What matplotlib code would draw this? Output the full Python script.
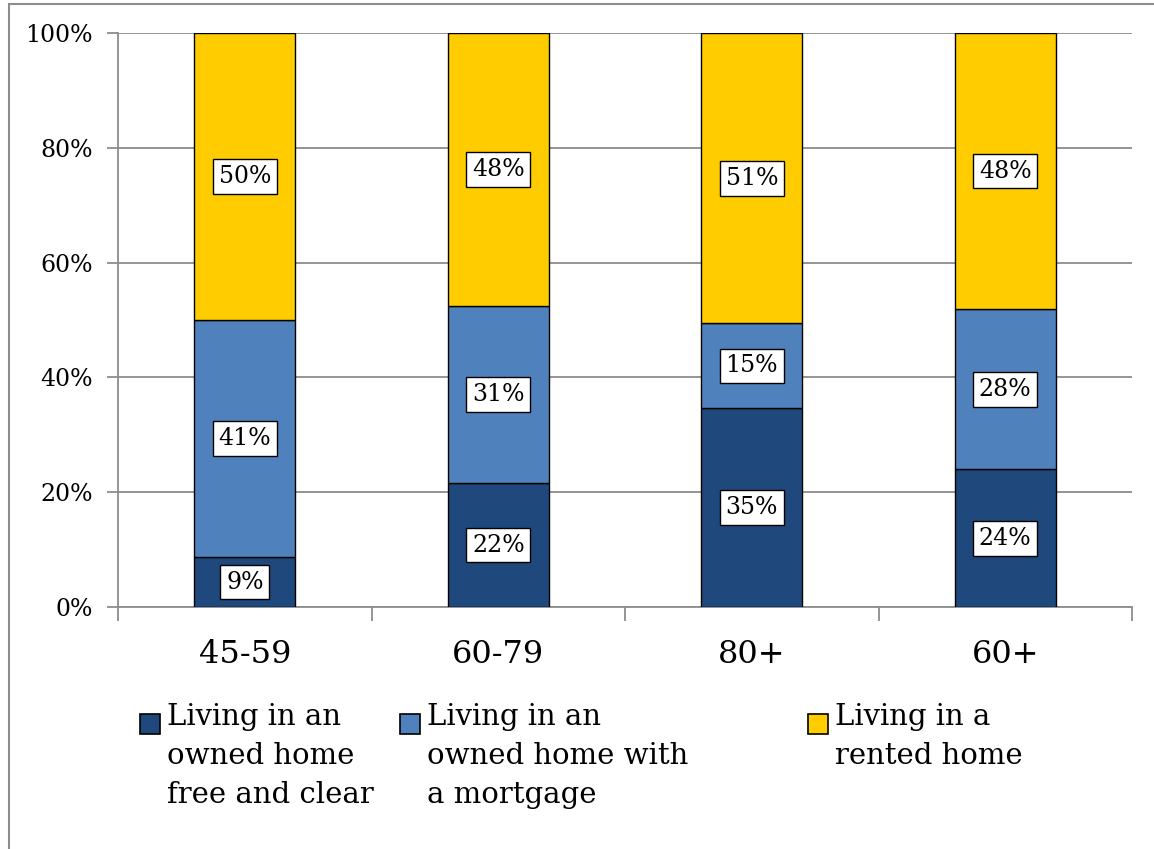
import numpy as np
import matplotlib
matplotlib.use("Agg")
import matplotlib.pyplot as plt
from matplotlib.patches import Rectangle

# Data (percent of people in each age group)
age_groups = ["45-59", "60-79", "80+", "60+"]
free_clear = [8.7, 21.6, 34.6, 24.0]
mortgage = [41.3, 30.8, 14.8, 27.9]
rented = [50.0, 47.6, 50.6, 48.1]

series_names = ["Living in an\nowned home\nfree and clear",
                "Living in an\nowned home with\na mortgage",
                "Living in a\nrented home"]
colors = ["#1F497D", "#4F81BD", "#FFCC00"]

plt.rcParams['font.family'] = ['DejaVu Serif']

fig = plt.figure(figsize=(11.54, 8.49), dpi=100)
ax = fig.add_axes([118 / 1154, 1 - 607 / 849, (1132 - 118) / 1154, (607 - 33) / 849])

x = np.arange(len(age_groups))
bottom = np.zeros(len(age_groups))
for vals, col in zip([free_clear, mortgage, rented], colors):
    vals = np.array(vals)
    ax.bar(x, vals, width=0.4, bottom=bottom, color=col,
           edgecolor="black", linewidth=1, zorder=3)
    # value labels in white boxes, centred on each segment
    for xi, b, v in zip(x, bottom, vals):
        ax.text(xi, b + v / 2, f"{v:.0f}%", ha="center", va="center",
                fontsize=17, zorder=4,
                bbox=dict(boxstyle="square,pad=0.25", fc="white",
                          ec="black", lw=1))
    bottom = bottom + vals

# axes styling
ax.set_xlim(-0.5, len(age_groups) - 0.5)
ax.set_ylim(0, 100)
ax.set_yticks(np.arange(0, 101, 20))
ax.set_yticklabels([f"{t}%" for t in range(0, 101, 20)], fontsize=17)
ax.yaxis.grid(True, color="#8C8C8C", linewidth=1.3, zorder=0)
ax.set_axisbelow(True)

ax.set_xticks(x)
ax.set_xticklabels(age_groups, fontsize=23)
ax.tick_params(axis="x", length=0, pad=23)
ax.set_xticks(np.arange(-0.5, len(age_groups)), minor=True)
ax.tick_params(axis="x", which="minor", length=10, color="#8C8C8C", width=1.3)
ax.tick_params(axis="y", length=8, color="#8C8C8C", width=1.3, pad=10)

for side in ["top", "right"]:
    ax.spines[side].set_visible(False)
for side in ["left", "bottom"]:
    ax.spines[side].set_color("#8C8C8C")
    ax.spines[side].set_linewidth(1.3)

# legend drawn by hand so the square sits beside the first line of text
legend_x = [140, 400, 808]
for lx, name, col in zip(legend_x, series_names, colors):
    fig.patches.append(Rectangle((lx / 1154, 1 - 734 / 849), 20 / 1154, 20 / 849,
                                 transform=fig.transFigure, fc=col,
                                 ec="black", lw=1.2))
    fig.text((lx + 27) / 1154, 1 - 703 / 849, name, ha="left", va="top",
             fontsize=21, linespacing=1.5)

# outer chart border (right and bottom edges fall outside the image)
fig.patches.append(Rectangle((9 / 1154, -0.05), 1.2, 1 - 4 / 849 + 0.05,
                             transform=fig.transFigure, fill=False,
                             ec="#8C8C8C", lw=1.5))

fig.savefig("out.png", dpi=100)
